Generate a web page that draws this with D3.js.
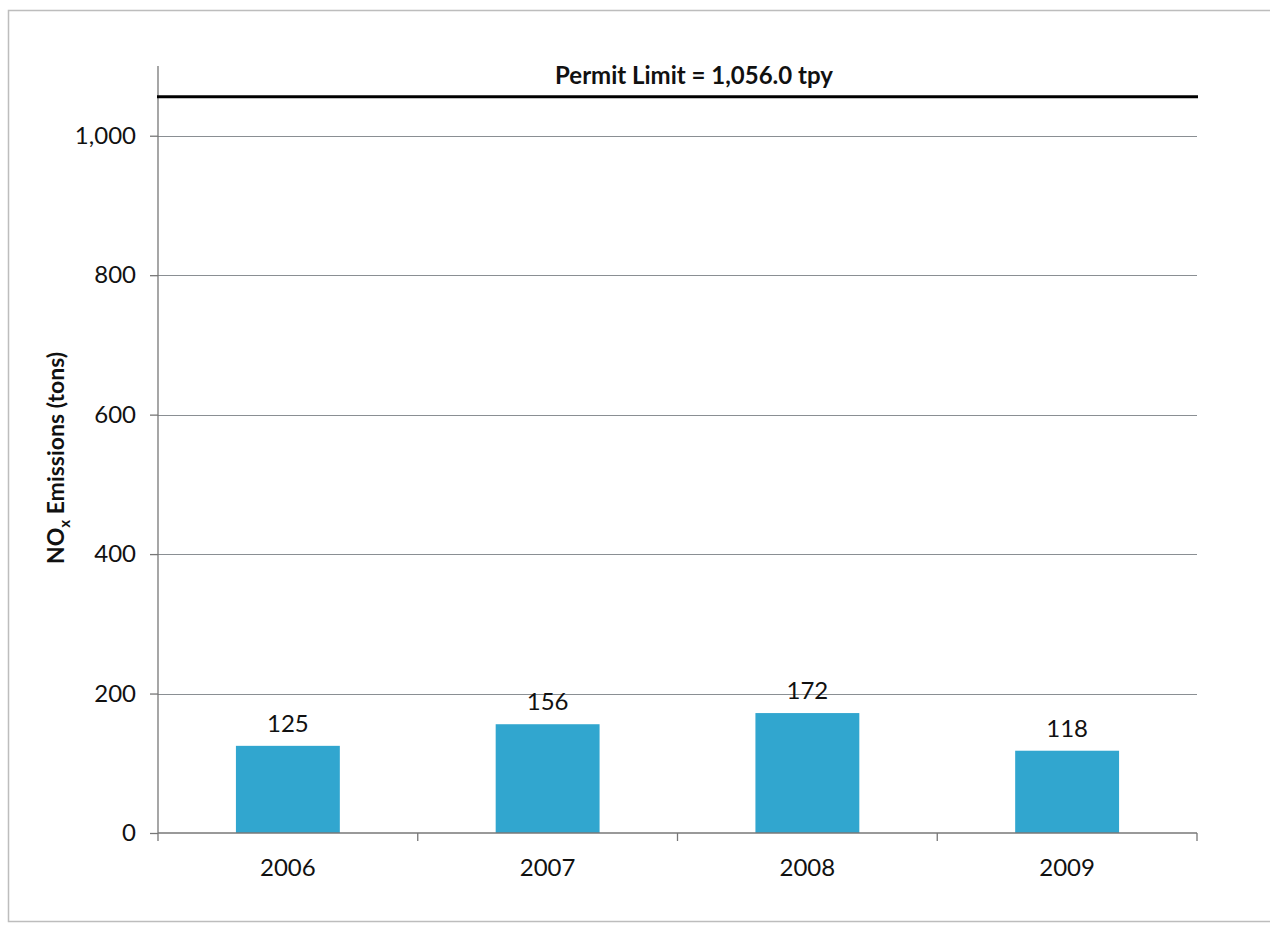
<!DOCTYPE html>
<html>
<head>
<meta charset="utf-8">
<script src="https://cdn.jsdelivr.net/npm/d3@7"></script>
<style>
  html, body { margin: 0; padding: 0; background: #fff; }
  svg { display: block; font-family: Lato, "Open Sans", sans-serif; }
</style>
</head>
<body>
<svg id="chart" width="1270" height="925"></svg>
<script>
// NOx emissions by year, with the permitted annual limit
const years = ["2006", "2007", "2008", "2009"];
const emissions = [125, 156, 172, 118];
const permitLimit = 1056;
const permitLabel = "Permit Limit = 1,056.0 tpy";
const yTicks = [0, 200, 400, 600, 800, 1000];

const svg = d3.select("#chart");
const W = 1270, H = 925;
const m = { left: 158, right: 1197, top: 66, bottom: 833 };

// outer frame
svg.append("rect")
  .attr("x", 8.5).attr("y", 10.5)
  .attr("width", W + 10).attr("height", 911)
  .attr("fill", "none").attr("stroke", "#bdbdbd").attr("stroke-width", 1.5);

const x = d3.scaleBand().domain(years).range([m.left, m.right])
  .paddingInner(0.6).paddingOuter(0.3);
const y = d3.scaleLinear().domain([0, 1100]).range([m.bottom, m.top]);

// horizontal gridlines
svg.append("g").selectAll("line")
  .data(yTicks.filter(d => d > 0))
  .join("line")
  .attr("x1", m.left).attr("x2", m.right)
  .attr("y1", d => Math.round(y(d)) + 0.5).attr("y2", d => Math.round(y(d)) + 0.5)
  .attr("stroke", "#8a8f93").attr("stroke-width", 1.2);

// bars
svg.append("g").selectAll("rect")
  .data(years.map((yr, i) => ({ yr, v: emissions[i] })))
  .join("rect")
  .attr("x", d => x(d.yr))
  .attr("width", x.bandwidth())
  .attr("y", d => y(d.v))
  .attr("height", d => y(0) - y(d.v))
  .attr("fill", "#31a6cf");

// value labels
svg.append("g").selectAll("text")
  .data(years.map((yr, i) => ({ yr, v: emissions[i] })))
  .join("text")
  .attr("x", d => x(d.yr) + x.bandwidth() / 2)
  .attr("y", d => y(d.v) - 14)
  .attr("text-anchor", "middle")
  .attr("font-size", 24)
  .attr("fill", "#111")
  .text(d => d.v);

// y axis
const yAxis = d3.axisLeft(y).tickValues(yTicks)
  .tickFormat(d3.format(",")).tickSize(8).tickPadding(14);
const gy = svg.append("g").attr("transform", `translate(${m.left},0)`).call(yAxis);
gy.select(".domain").attr("stroke", "#777").attr("stroke-width", 1.3)
  .attr("d", `M-0,${m.top}V${m.bottom}`);
gy.selectAll(".tick line").attr("stroke", "#777").attr("stroke-width", 1.3);
gy.selectAll(".tick text").attr("font-size", 24).attr("fill", "#111")
  .attr("font-family", "Lato, sans-serif");

// x axis with category boundary ticks
const gx = svg.append("g").attr("transform", `translate(0,${m.bottom})`);
gx.append("line").attr("x1", m.left).attr("x2", m.right)
  .attr("stroke", "#777").attr("stroke-width", 1.3);
const step = x.step();
const bounds = d3.range(years.length + 1).map(i => m.left + i * step);
gx.selectAll("line.b").data(bounds).join("line").attr("class", "b")
  .attr("x1", d => d).attr("x2", d => d).attr("y1", 0).attr("y2", 8)
  .attr("stroke", "#777").attr("stroke-width", 1.3);
gx.selectAll("text").data(years).join("text")
  .attr("x", d => x(d) + x.bandwidth() / 2)
  .attr("y", 43)
  .attr("text-anchor", "middle")
  .attr("font-size", 24).attr("fill", "#111")
  .text(d => d);

// permit limit line and label
svg.append("line")
  .attr("x1", m.left - 1).attr("x2", m.right + 1)
  .attr("y1", y(permitLimit)).attr("y2", y(permitLimit))
  .attr("stroke", "#000").attr("stroke-width", 3);
svg.append("text")
  .attr("x", 694)
  .attr("y", y(permitLimit) - 13)
  .attr("text-anchor", "middle")
  .attr("font-size", 24).attr("font-weight", "bold").attr("fill", "#111")
  .text(permitLabel);

// y axis title with subscript
const yt = svg.append("text")
  .attr("transform", `translate(64,458) rotate(-90)`)
  .attr("text-anchor", "middle")
  .attr("font-size", 23).attr("font-weight", "bold").attr("fill", "#111");
yt.append("tspan").text("NO");
yt.append("tspan").attr("font-size", 15).attr("dy", 6).text("x");
yt.append("tspan").attr("dy", -6).text(" Emissions (tons)");
</script>
</body>
</html>
